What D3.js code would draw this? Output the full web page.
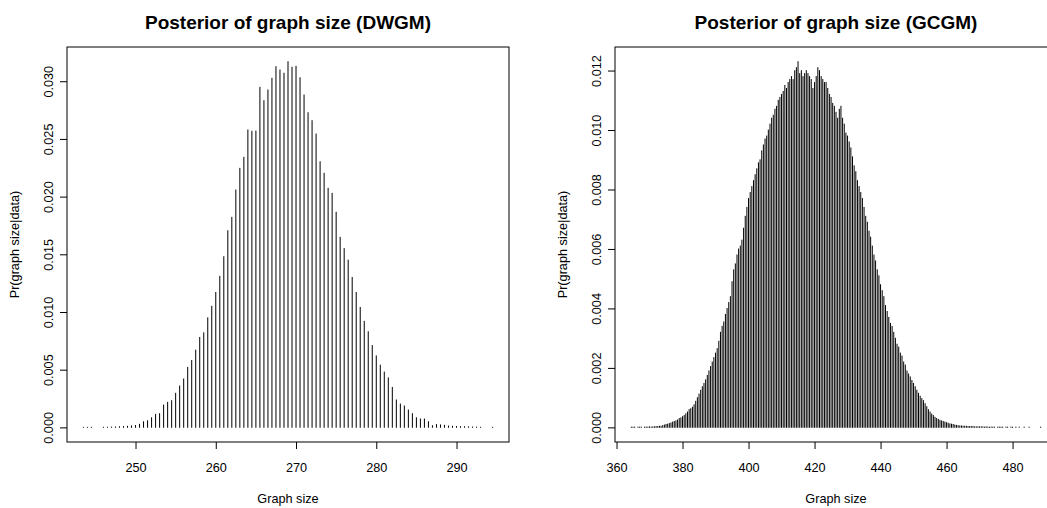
<!DOCTYPE html>
<html>
<head>
<meta charset="utf-8">
<script src="https://cdn.jsdelivr.net/npm/d3@7"></script>
<style>
  body { margin: 0; background: #fff; }
  svg { display: block; font-family: "Liberation Sans", Arial, Helvetica, sans-serif; }
</style>
</head>
<body>
<div id="sketchpad"></div>
<script>
// graph sizes are on a half-unit grid
let dwgmStart = 243.5
let dwgmStep = 0.5
let dwgmProb = [
  0.00001, 0.00001, 0.00001, null, null, 0.00002, 0.00002, 0.00003, 0.00004, 0.00006,
  0.00008, 0.0001, 0.00013, 0.00017, 0.00027, 0.0005, 0.00058, 0.00084, 0.00113, 0.00119,
  0.00194, 0.00217, 0.00232, 0.00296, 0.00359, 0.0042, 0.0052, 0.0058, 0.0067, 0.0078,
  0.0082, 0.0095, 0.0105, 0.0117, 0.0131, 0.0148, 0.01705, 0.01821, 0.02058, 0.02246,
  0.02341, 0.02578, 0.02567, 0.02569, 0.02948, 0.02832, 0.02925, 0.03026, 0.03127, 0.03098,
  0.0307, 0.0317, 0.03122, 0.0313, 0.03031, 0.02881, 0.02728, 0.02659, 0.02543, 0.02303,
  0.02203, 0.02073, 0.02029, 0.01865, 0.01648, 0.0155, 0.0145, 0.013, 0.0117, 0.0104,
  0.0092, 0.0083, 0.0071, 0.0062, 0.0054, 0.0048, 0.0043, 0.00347, 0.00238, 0.00203,
  0.00186, 0.00151, 0.00119, 0.00084, 0.00073, 0.00073, 0.0005, 0.00015, 0.00025, 0.00022,
  0.00018, 0.00012, 0.0001, 0.00008, 0.00007, 0.00006, 0.00005, 0.00004, 0.00003, 0.00002,
  null, null, 0.00001
]

let gcgmStart = 364.5
let gcgmStep = 0.5
let gcgmProb = [
  0.00001, 0.00001, 0.00001, null, 0.00001, 0.00001, 0.00001, null, 0.00001, 0.00001,
  0.00001, 0.00002, 0.00001, 0.00002, 0.00002, 0.00003, 0.00003, 0.00004, 0.00004, 0.00006,
  0.00008, 0.0001, 0.00011, 0.00013, 0.00015, 0.00018, 0.0002, 0.00022, 0.00025, 0.0003,
  0.00032, 0.00036, 0.0004, 0.00046, 0.00052, 0.0006, 0.00063, 0.00068, 0.00076, 0.00088,
  0.001, 0.00112, 0.00125, 0.00137, 0.00148, 0.0016, 0.00175, 0.0019, 0.00205, 0.0022,
  0.00235, 0.0025, 0.00265, 0.0029, 0.0032, 0.0034, 0.00355, 0.0038, 0.004, 0.0042,
  0.0044, 0.0049, 0.0053, 0.0055, 0.0058, 0.006, 0.0061, 0.0063, 0.0067, 0.0071,
  0.0074, 0.0077, 0.0079, 0.0081, 0.0083, 0.0085, 0.0087, 0.0089, 0.009, 0.0093,
  0.0095, 0.0097, 0.0098, 0.01, 0.0102, 0.0104, 0.0105, 0.0107, 0.0108, 0.011,
  0.0111, 0.0112, 0.0113, 0.0115, 0.0114, 0.0116, 0.0117, 0.0118, 0.0117, 0.012,
  0.0121, 0.0123, 0.0119, 0.012, 0.0118, 0.0119, 0.012, 0.0119, 0.0118, 0.0117,
  0.0114, 0.0116, 0.0118, 0.0121, 0.012, 0.0118, 0.0117, 0.0116, 0.0116, 0.0114,
  0.0112, 0.0111, 0.0109, 0.0108, 0.0106, 0.0104, 0.0107, 0.0108, 0.0104, 0.0102,
  0.0099, 0.0098, 0.0096, 0.0094, 0.0091, 0.0088, 0.0086, 0.0083, 0.0081, 0.0079,
  0.0077, 0.0074, 0.0071, 0.0069, 0.0066, 0.0064, 0.0061, 0.0058, 0.0056, 0.0053,
  0.0051, 0.0048, 0.0046, 0.0044, 0.0041, 0.0039, 0.0037, 0.0035, 0.0034, 0.0032,
  0.003, 0.0028, 0.0027, 0.0025, 0.0024, 0.0022, 0.0021, 0.0019, 0.0018, 0.0017,
  0.00158, 0.00148, 0.00137, 0.00125, 0.00115, 0.00105, 0.00097, 0.0009, 0.0008, 0.0007,
  0.0006, 0.00052, 0.00045, 0.0004, 0.00034, 0.0003, 0.00027, 0.00024, 0.00022, 0.0002,
  0.00018, 0.00016, 0.00014, 0.00012, 0.00011, 0.0001, 0.00008, 0.00007, 0.00006, 0.00005,
  0.00005, 0.00004, 0.00004, 0.00004, 0.00003, 0.00003, 0.00003, 0.00003, 0.00002, 0.00002,
  0.00002, 0.00002, 0.00002, 0.00002, 0.00001, 0.00002, 0.00001, 0.00001, 0.00001, 0.00001,
  0.00001, null, 0.00001, 0.00001, 0.00001, 0.00001, null, 0.00001, 0.00001, null,
  0.00001, 0.00001, null, 0.00001, null, 0.00001, null, null, 0.00001, null,
  null, 0.00001, null, null, null, null, null, null, 0.00001
]

let dwgmXTicks = [250, 260, 270, 280, 290]
let dwgmYTicks = [0, 0.005, 0.01, 0.015, 0.02, 0.025, 0.03]
let gcgmXTicks = [360, 380, 400, 420, 440, 460, 480]
let gcgmYTicks = [0, 0.002, 0.004, 0.006, 0.008, 0.01, 0.012]

let svg = d3.select("#sketchpad")
  .append("svg")
  .attr("width", 1047)
  .attr("height", 508)

function panel(opts) {
  let data = opts.prob.map((p, i) => ({ size: opts.start + i * opts.step, p: p }))
  let sizes = data.map(d => d.size)
  let xr = d3.max(sizes) - d3.min(sizes)
  let ymax = d3.max(data, d => d.p)

  // R style 4% padding
  let x = d3.scaleLinear()
    .domain([d3.min(sizes) - 0.04 * xr, d3.max(sizes) + 0.04 * xr])
    .range([opts.left, opts.left + 442])
  let y = d3.scaleLinear()
    .domain([-0.04 * ymax, 1.04 * ymax])
    .range([442, 47])

  let g = svg.append("g")

  g.selectAll("line.bar")
    .data(data.filter(d => d.p !== null))
    .join("line")
    .attr("class", "bar")
    .attr("x1", d => x(d.size))
    .attr("x2", d => x(d.size))
    .attr("y1", y(0))
    .attr("y2", d => y(d.p))
    .attr("stroke", "#000")
    .attr("stroke-width", 1)
    .attr("stroke-linecap", "round")

  g.append("rect")
    .attr("x", opts.left)
    .attr("y", 47)
    .attr("width", 442)
    .attr("height", 395)
    .attr("fill", "none")
    .attr("stroke", "#000")
    .attr("stroke-width", 1)

  let xa = g.append("g")
    .attr("transform", "translate(0,442)")
    .call(d3.axisBottom(x).tickValues(opts.xTicks).tickSize(7).tickFormat(d3.format("d")))
  xa.select(".domain").remove()
  xa.selectAll("text")
    .attr("y", 29.7)
    .attr("dy", 0)
    .attr("font-size", 12.7)
    .attr("font-family", null)
    .attr("fill", "#000")

  let ya = g.append("g")
    .attr("transform", "translate(" + opts.left + ",0)")
    .call(d3.axisLeft(y).tickValues(opts.yTicks).tickSize(7).tickFormat(d3.format(".3f")))
  ya.select(".domain").remove()
  ya.selectAll("text")
    .attr("transform", "rotate(-90)")
    .attr("x", 0)
    .attr("y", -14)
    .attr("dy", 0)
    .attr("text-anchor", "middle")
    .attr("font-size", 12.7)
    .attr("font-family", null)
    .attr("fill", "#000")

  let cx = opts.left + 221

  g.append("text")
    .attr("x", cx)
    .attr("y", 29)
    .attr("text-anchor", "middle")
    .attr("font-size", 19)
    .attr("font-weight", "bold")
    .text(opts.title)

  g.append("text")
    .attr("x", cx)
    .attr("y", 502.5)
    .attr("text-anchor", "middle")
    .attr("font-size", 12.7)
    .text("Graph size")

  g.append("text")
    .attr("transform", "translate(" + (opts.left - 48) + "," + 244.5 + ") rotate(-90)")
    .attr("text-anchor", "middle")
    .attr("font-size", 12.7)
    .text("Pr(graph size|data)")
}

panel({
  start: dwgmStart, step: dwgmStep, prob: dwgmProb,
  xTicks: dwgmXTicks, yTicks: dwgmYTicks,
  left: 67, title: "Posterior of graph size (DWGM)"
})

panel({
  start: gcgmStart, step: gcgmStep, prob: gcgmProb,
  xTicks: gcgmXTicks, yTicks: gcgmYTicks,
  left: 615, title: "Posterior of graph size (GCGM)"
})
</script>
</body>
</html>
